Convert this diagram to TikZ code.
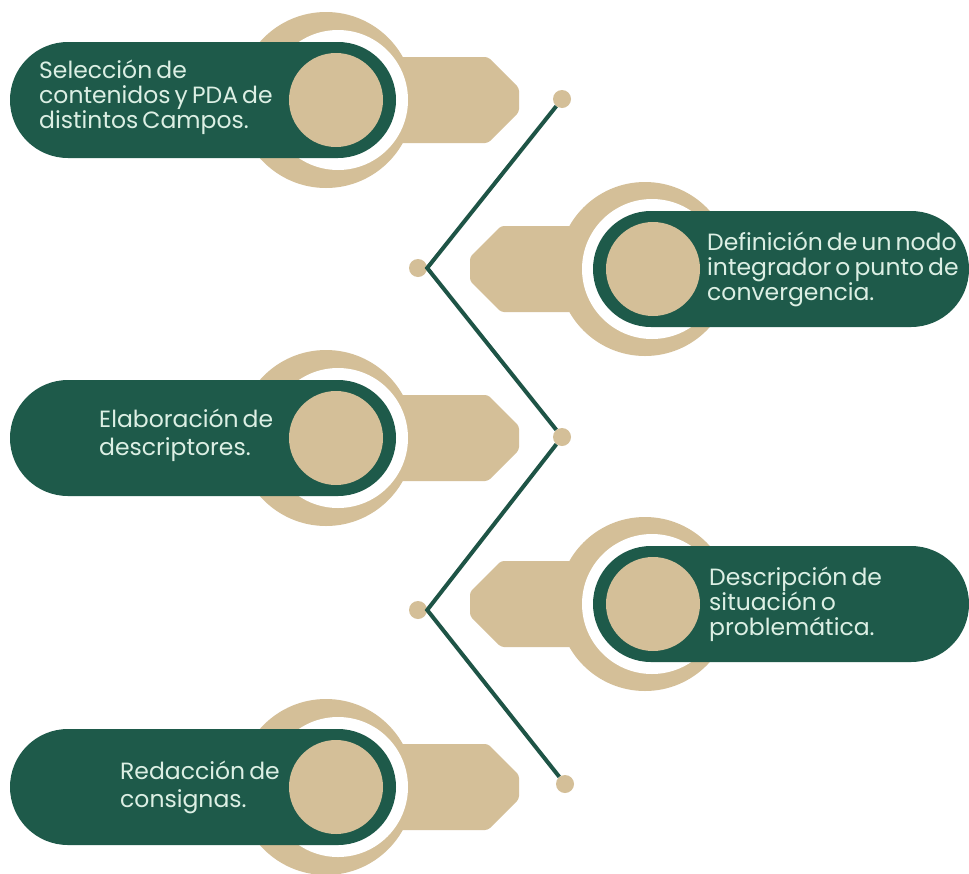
\documentclass[tikz,border=0pt]{standalone}
\usepackage{fontspec}
\setmainfont{Poppins}[WordSpace=0.65]
\definecolor{pillgreen}{HTML}{1E5A4A}
\definecolor{tanc}{HTML}{D4BF98}
\definecolor{txtc}{HTML}{DCEFE4}
\definecolor{zigc}{HTML}{1E5446}
\newcommand\LeftUnit[1]{%
  \fill[tanc, rounded corners=3] (338,#1-43) -- (488,#1-43) -- (519,#1-12) -- (519,#1+12) -- (488,#1+43) -- (338,#1+43) -- cycle;
  \fill[tanc] (326,#1) circle[radius=88];
  \fill[white] (338,#1) circle[radius=70];
  \fill[pillgreen, rounded corners=58] (10,#1-58) rectangle (396,#1+58);
  \fill[tanc] (336,#1) circle[radius=47];
}
\newcommand\RightUnit[1]{%
  \fill[tanc, rounded corners=3] (651,#1-43) -- (501,#1-43) -- (470,#1-12) -- (470,#1+12) -- (501,#1+43) -- (651,#1+43) -- cycle;
  \fill[tanc] (645,#1) circle[radius=87];
  \fill[white] (652,#1) circle[radius=70];
  \fill[pillgreen, rounded corners=58] (593,#1-58) rectangle (969,#1+58);
  \fill[tanc] (653,#1) circle[radius=47];
}
\begin{document}
\begin{tikzpicture}[x=1pt,y=-1pt,
  lbl/.style={text=txtc, align=left, inner sep=0pt, anchor=west},
  three/.style={lbl, font=\fontsize{23.5}{25}\selectfont},
  two/.style={lbl, font=\fontsize{23.5}{28}\selectfont},
  dot/.style={circle, fill=tanc, minimum size=18pt, inner sep=0pt},
  zigline/.style={draw=zigc, line width=4pt}]
\fill[white] (0,0) rectangle (969,873);
\useasboundingbox (0,0) rectangle (969,873);

\LeftUnit{100}
\RightUnit{269}
\LeftUnit{438}
\RightUnit{604}
\LeftUnit{787}

\node[three] (t1) at (39,97) {Selección de\\contenidos y PDA de\\distintos Campos.};
\node[three] (t2) at (707,269) {Definición de un nodo\\integrador o punto de\\convergencia.};
\node[two] (t3) at (99,435) {Elaboración de\\descriptores.};
\node[three] (t4) at (709,604) {Descripción de\\situación o\\problemática.};
\node[two] (t5) at (120,787) {Redacción de\\consignas.};

\node[dot] (d1) at (562,99) {};
\node[dot] (d2) at (418,268) {};
\node[dot] (d3) at (562,437) {};
\node[dot] (d4) at (418,610) {};
\node[dot] (d5) at (565,784) {};

\draw[zigline] (d1) -- (d2.east) -- (d3) -- (d4.east) -- (d5);
\end{tikzpicture}
\end{document}
